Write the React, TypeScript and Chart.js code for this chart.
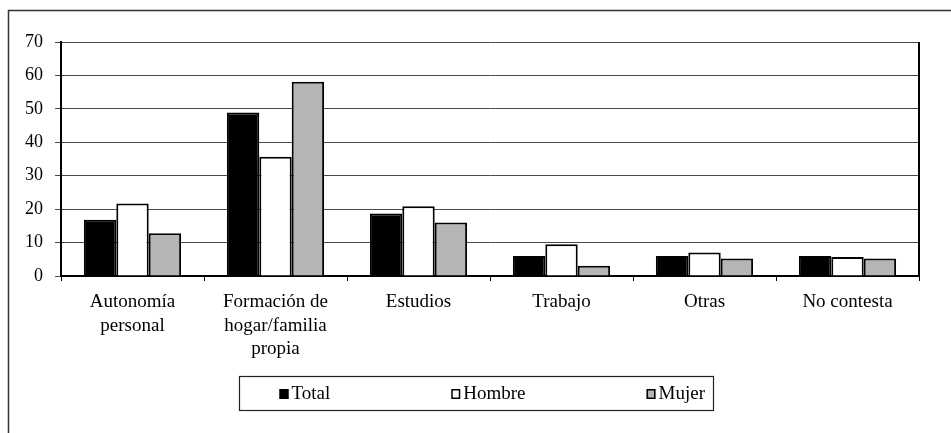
import React, { useEffect, useRef } from "react";
import { Chart, registerables } from "chart.js";

Chart.register(...registerables);

const categories: (string | string[])[] = [
  ["Autonomía", "personal"],
  ["Formación de", "hogar/familia", "propia"],
  "Estudios",
  "Trabajo",
  "Otras",
  "No contesta",
];
const seriesNames = ["Total", "Hombre", "Mujer"];
const totalValues = [16.8, 48.9, 18.7, 6.0, 6.0, 6.0];
const hombreValues = [21.7, 35.7, 20.9, 9.5, 7.0, 5.7];
const mujerValues = [12.8, 58.1, 16.0, 3.1, 5.2, 5.2];
const seriesColors = ["#000000", "#ffffff", "#b5b5b5"];
const yMin = 0;
const yMax = 70;
const yStep = 10;

const FONT = "'Liberation Serif', 'Times New Roman', serif";

export default function App() {
  const ref = useRef<HTMLCanvasElement>(null);

  useEffect(() => {
    if (!ref.current) return;

    const decor = {
      id: "decor",
      beforeDraw(chart: any) {
        const { ctx, width, height } = chart;
        ctx.save();
        ctx.fillStyle = "#ffffff";
        ctx.fillRect(0, 0, width, height);
        ctx.strokeStyle = "#333333";
        ctx.lineWidth = 1.5;
        ctx.strokeRect(8.5, 10.5, width + 20, height + 20);
        ctx.restore();
      },
      afterDatasetsDraw(chart: any) {
        const { ctx, chartArea } = chart;
        ctx.save();
        ctx.strokeStyle = "#000000";
        ctx.lineWidth = 2;
        ctx.beginPath();
        ctx.moveTo(chartArea.right, chartArea.top);
        ctx.lineTo(chartArea.right, chartArea.bottom);
        ctx.stroke();
        ctx.restore();
      },
      afterDraw(chart: any) {
        const { ctx, width } = chart;
        const boxW = 474;
        const boxH = 34;
        const boxL = Math.round(width / 2 - boxW / 2) + 0.5;
        const boxT = 376.5;
        ctx.save();
        ctx.strokeStyle = "#222222";
        ctx.lineWidth = 1.2;
        ctx.strokeRect(boxL, boxT, boxW, boxH);
        ctx.font = "19px " + FONT;
        ctx.textBaseline = "middle";
        ctx.fillStyle = "#000000";
        const cy = boxT + boxH / 2 + 0.5;
        let x = boxL + 40;
        chart.data.datasets.forEach((ds: any) => {
          ctx.fillStyle = ds.backgroundColor;
          ctx.fillRect(x, cy - 5, 9, 10);
          ctx.strokeStyle = "#000000";
          ctx.lineWidth = 1.5;
          ctx.strokeRect(x + 0.75, cy - 4.25, 7.5, 8.5);
          ctx.fillStyle = "#000000";
          ctx.fillText(ds.label, x + 12, cy);
          const tw = ctx.measureText(ds.label).width;
          x += 12 + tw + 121;
        });
        ctx.restore();
      },
    };

    const chart = new Chart(ref.current, {
      type: "bar",
      data: {
        labels: categories,
        datasets: [
          { label: seriesNames[0], data: totalValues, backgroundColor: seriesColors[0] },
          { label: seriesNames[1], data: hombreValues, backgroundColor: seriesColors[1] },
          { label: seriesNames[2], data: mujerValues, backgroundColor: seriesColors[2] },
        ].map((d) => ({
          ...d,
          borderColor: "#000000",
          borderWidth: 2,
          categoryPercentage: 0.68,
          barPercentage: 1.0,
        })),
      },
      options: {
        responsive: false,
        animation: false,
        devicePixelRatio: 1,
        layout: { padding: { top: 42, right: 32, left: 0, bottom: 0 } },
        plugins: {
          legend: { display: false },
          tooltip: { enabled: false },
          title: { display: false },
        },
        scales: {
          x: {
            offset: true,
            grid: {
              offset: true,
              drawOnChartArea: false,
              drawTicks: true,
              tickLength: 5,
              color: "#000000",
              lineWidth: 1,
            },
            border: { display: true, color: "#000000", width: 2 },
            ticks: {
              color: "#000000",
              font: { family: FONT, size: 19, lineHeight: 1.25 },
              padding: 9,
              maxRotation: 0,
              autoSkip: false,
            },
            afterFit(scale: any) {
              scale.height = 157;
            },
          },
          y: {
            min: yMin,
            max: yMax,
            grid: {
              color: "#4a4a4a",
              lineWidth: 1,
              tickLength: 6,
              drawTicks: true,
            },
            border: { display: true, color: "#000000", width: 2 },
            ticks: {
              stepSize: yStep,
              color: "#000000",
              font: { family: FONT, size: 18 },
              padding: 12,
            },
            afterFit(scale: any) {
              scale.width = 61;
            },
          },
        },
      },
      plugins: [decor],
    });

    return () => chart.destroy();
  }, []);

  return (
    <div style={{ position: "fixed", left: 0, top: 0, width: 951, height: 433 }}>
      <canvas ref={ref} width={951} height={433} style={{ display: "block", width: 951, height: 433 }} />
    </div>
  );
}
